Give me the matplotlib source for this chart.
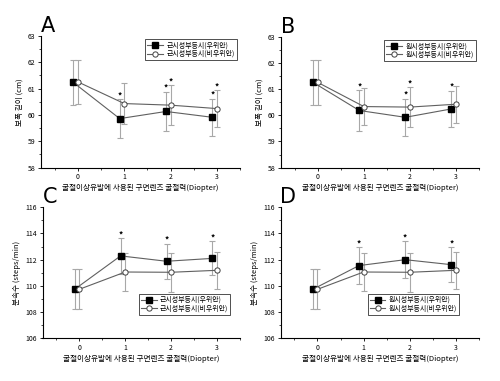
import matplotlib
matplotlib.use("Agg")
import matplotlib.pyplot as plt
import numpy as np

plt.rcParams['font.family'] = ['Noto Sans CJK KR', 'DejaVu Sans']

diopter = [0, 1, 2, 3]

# A: stride length, myopic anisometropia
a_dom = [61.23, 59.86, 60.13, 59.91]
a_dom_err = [0.85, 0.73, 0.75, 0.70]
a_non = [61.25, 60.43, 60.37, 60.24]
a_non_err = [0.85, 0.77, 0.75, 0.70]
a_star_dom = [1, 2, 3]
a_star_non = [2, 3]

# B: stride length, hyperopic anisometropia
b_dom = [61.25, 60.18, 59.92, 60.24]
b_dom_err = [0.85, 0.77, 0.70, 0.70]
b_non = [61.25, 60.33, 60.31, 60.42]
b_non_err = [0.85, 0.70, 0.75, 0.70]
b_star_dom = [1, 2, 3]
b_star_non = [2]

# C: cadence, myopic anisometropia
c_dom = [109.74, 112.29, 111.88, 112.10]
c_dom_err = [1.52, 1.35, 1.35, 1.30]
c_non = [109.74, 111.06, 111.04, 111.19]
c_non_err = [1.52, 1.47, 1.47, 1.43]
c_star_dom = [1, 2, 3]

# D: cadence, hyperopic anisometropia
d_dom = [109.74, 111.55, 112.00, 111.62]
d_dom_err = [1.52, 1.40, 1.40, 1.35]
d_non = [109.74, 111.06, 111.04, 111.19]
d_non_err = [1.52, 1.47, 1.47, 1.43]
d_star_dom = [1, 2, 3]

lab_my = ['근시성부등시(우위안)', '근시성부등시(비우위안)']
lab_hy = ['원시성부등시(우위안)', '원시성부등시(비우위안)']
xlabel = '굴절이상유발에 사용된 구면렌즈 굴절력(Diopter)'
ylab_stride = '보폭 길이 (cm)'
ylab_cad = '분속수 (steps/min)'

fig = plt.figure(figsize=(5, 3.81), dpi=100)


def panel(rect, letter, dom, dom_err, non, non_err, star_dom, star_non,
          labels, ylabel, ylim, yticks, legloc, star_off):
    ax = fig.add_axes(rect)
    x = np.array(diopter, dtype=float)
    ax.errorbar(x - 0.1, dom, yerr=dom_err, fmt='none', ecolor='#a8a8a8',
                elinewidth=0.8, capsize=2, capthick=0.8, zorder=1)
    ax.errorbar(x, non, yerr=non_err, fmt='none', ecolor='#a8a8a8',
                elinewidth=0.8, capsize=2, capthick=0.8, zorder=1)
    ax.plot(x - 0.1, dom, '-s', color='#606060', lw=0.8, ms=3.8,
            mfc='black', mec='black', label=labels[0], zorder=3)
    ax.plot(x, non, '-o', color='#606060', lw=0.8, ms=3.8,
            mfc='white', mec='#404040', mew=0.7, label=labels[1], zorder=3)
    for i in star_dom:
        ax.text(x[i] - 0.1, dom[i] + dom_err[i] + star_off, '*',
                ha='center', va='center', fontsize=6, fontweight='bold')
    for i in star_non:
        ax.text(x[i], non[i] + non_err[i] + star_off, '*',
                ha='center', va='center', fontsize=6, fontweight='bold')
    ax.set_xlim(-0.8, 3.5)
    ax.set_ylim(*ylim)
    ax.set_yticks(yticks)
    ax.set_xticks(diopter)
    ax.set_xticks([-0.5, 0.5, 1.5, 2.5, 3.5], minor=True)
    ax.set_yticks(np.arange(ylim[0], ylim[1], (yticks[1] - yticks[0]) / 2),
                  minor=True)
    ax.spines['top'].set_visible(False)
    ax.spines['right'].set_visible(False)
    ax.tick_params(labelsize=5, length=2.5, width=0.6, pad=1.5)
    ax.tick_params(which='minor', length=1.5, width=0.5)
    for s in ['left', 'bottom']:
        ax.spines[s].set_linewidth(0.8)
    ax.set_xlabel(xlabel, fontsize=5.5, labelpad=2)
    ax.set_ylabel(ylabel, fontsize=5.5, labelpad=3)
    leg = ax.legend(loc=legloc, fontsize=5, frameon=True, fancybox=False,
                    edgecolor='black', handlelength=2.2, borderpad=0.3,
                    labelspacing=0.1, handletextpad=0.5)
    leg.get_frame().set_linewidth(0.6)
    ax.text(0.0, 1.0, letter, transform=ax.transAxes, fontsize=15,
            ha='left', va='bottom', family='DejaVu Sans')
    return ax


panel([0.082, 0.56, 0.398, 0.346], 'A', a_dom, a_dom_err, a_non, a_non_err,
      a_star_dom, a_star_non, lab_my, ylab_stride, (58, 63), [58, 59, 60, 61, 62, 63],
      'upper right', 0.13)
panel([0.562, 0.56, 0.396, 0.344], 'B', b_dom, b_dom_err, b_non, b_non_err,
      b_star_dom, b_star_non, lab_hy, ylab_stride, (58, 63), [58, 59, 60, 61, 62, 63],
      'upper right', 0.13)
panel([0.085, 0.112, 0.395, 0.344], 'C', c_dom, c_dom_err, c_non, c_non_err,
      c_star_dom, [], lab_my, ylab_cad, (106, 116), [106, 108, 110, 112, 114, 116],
      (0.49, 0.18), 0.25)
panel([0.561, 0.112, 0.397, 0.344], 'D', d_dom, d_dom_err, d_non, d_non_err,
      d_star_dom, [], lab_hy, ylab_cad, (106, 116), [106, 108, 110, 112, 114, 116],
      (0.44, 0.18), 0.25)

fig.savefig('out.png', dpi=100)
